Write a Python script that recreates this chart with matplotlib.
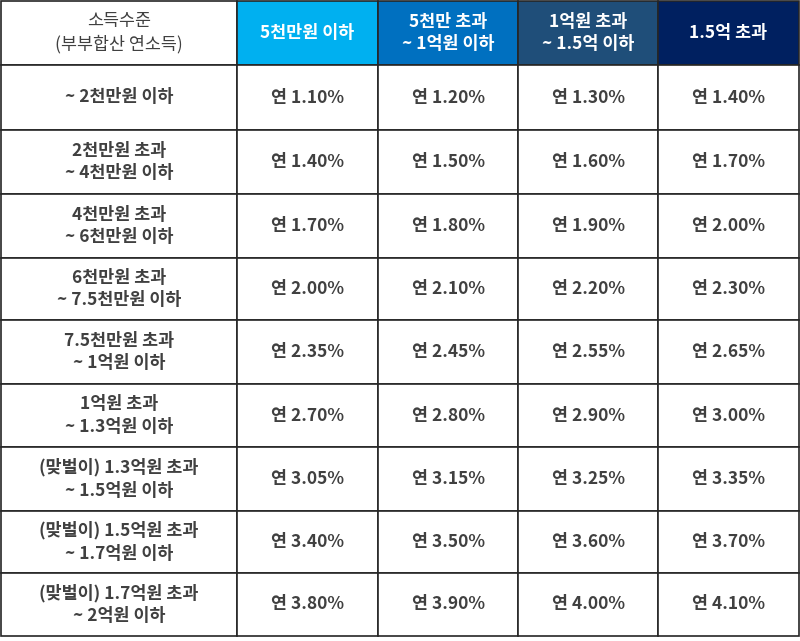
import matplotlib
matplotlib.use("Agg")
import matplotlib.pyplot as plt
from matplotlib import font_manager
from matplotlib.patches import Rectangle

cjk = sorted({f.name for f in font_manager.fontManager.ttflist if "CJK" in f.name})
plt.rcParams["font.family"] = ["Noto Sans CJK KR"] + cjk + ["DejaVu Sans"]

HEADER_FIRST = "소득수준\n(부부합산 연소득)"
COL_HEADERS = ["5천만원 이하", "5천만 초과\n~ 1억원 이하", "1억원 초과\n~ 1.5억 이하", "1.5억 초과"]
HEADER_COLORS = ["#00B0F0", "#0070C0", "#1F4E79", "#002060"]
ROW_LABELS = [
    "~ 2천만원 이하",
    "2천만원 초과\n~ 4천만원 이하",
    "4천만원 초과\n~ 6천만원 이하",
    "6천만원 초과\n~ 7.5천만원 이하",
    "7.5천만원 초과\n~ 1억원 이하",
    "1억원 초과\n~ 1.3억원 이하",
    "(맞벌이) 1.3억원 초과\n~ 1.5억원 이하",
    "(맞벌이) 1.5억원 초과\n~ 1.7억원 이하",
    "(맞벌이) 1.7억원 초과\n~ 2억원 이하",
]
RATES = [
    [1.10, 1.20, 1.30, 1.40],
    [1.40, 1.50, 1.60, 1.70],
    [1.70, 1.80, 1.90, 2.00],
    [2.00, 2.10, 2.20, 2.30],
    [2.35, 2.45, 2.55, 2.65],
    [2.70, 2.80, 2.90, 3.00],
    [3.05, 3.15, 3.25, 3.35],
    [3.40, 3.50, 3.60, 3.70],
    [3.80, 3.90, 4.00, 4.10],
]

W, H = 800, 641
col_x = [1, 237, 378, 518, 658, 799]
row_y = [1, 65, 130, 194, 258, 320, 384, 447, 511, 573, 636]
TEXT = "#404040"

fig = plt.figure(figsize=(8, 6.41), dpi=100)
ax = fig.add_axes([0, 0, 1, 1])
ax.set_xlim(0, W)
ax.set_ylim(H, 0)
ax.axis("off")

def cell(c, r, text, fc="white", color=TEXT, weight="bold"):
    x0, x1 = col_x[c], col_x[c + 1]
    y0, y1 = row_y[r], row_y[r + 1]
    ax.add_patch(Rectangle((x0, y0), x1 - x0, y1 - y0, facecolor=fc,
                           edgecolor="#262626", linewidth=1.2))
    ax.text((x0 + x1) / 2, (y0 + y1) / 2, text, ha="center", va="center",
            fontsize=12.5, color=color, fontweight=weight, linespacing=1.35)

cell(0, 0, HEADER_FIRST, weight="normal")
for j, (h, fc) in enumerate(zip(COL_HEADERS, HEADER_COLORS)):
    cell(j + 1, 0, h, fc=fc, color="white")
for i, (lab, vals) in enumerate(zip(ROW_LABELS, RATES)):
    cell(0, i + 1, lab)
    for j, v in enumerate(vals):
        cell(j + 1, i + 1, f"연 {v:.2f}%")

fig.savefig("out.png", dpi=100)
